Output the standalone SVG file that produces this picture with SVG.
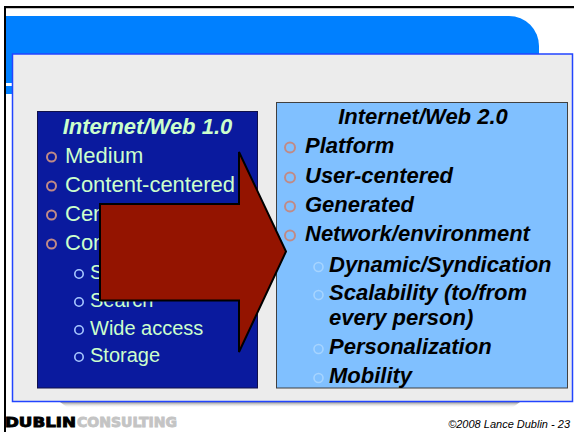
<svg xmlns="http://www.w3.org/2000/svg" width="574" height="432" viewBox="0 0 574 432">
  <defs>
    <style>
      .t1 { font-family: "Liberation Sans", Arial, sans-serif; font-size: 22px; fill: #ccffcc; }
      .t1s { font-family: "Liberation Sans", Arial, sans-serif; font-size: 20px; fill: #ccffcc; }
      .t2 { font-family: "Liberation Sans", Arial, sans-serif; font-size: 22px; font-weight: bold; font-style: italic; fill: #000000; }
      .ttl1 { font-family: "Liberation Sans", Arial, sans-serif; font-size: 22px; font-weight: bold; font-style: italic; fill: #ccffcc; text-anchor: middle; }
      .b1 { fill: none; stroke: #c08a86; stroke-width: 2; }
      .b1s { fill: none; stroke: #a8c8ff; stroke-width: 1.6; }
      .b2s { fill: none; stroke: #a6d4ff; stroke-width: 1.6; }
    </style>
    <linearGradient id="shadowGrad" x1="0" y1="0" x2="0" y2="1">
      <stop offset="0" stop-color="#8c8c8c"/>
      <stop offset="1" stop-color="#ffffff" stop-opacity="0"/>
    </linearGradient>
  </defs>

  <rect x="0" y="0" width="574" height="432" fill="#ffffff"/>

  <!-- slide frame -->
  <g id="frame">
    <rect x="4" y="6" width="570" height="2" fill="#000000"/>
    <rect x="4" y="8" width="570" height="1" fill="#c8c8c8"/>
    <rect x="4" y="6" width="2" height="426" fill="#000000"/>
  </g>

  <!-- title banner -->
  <g id="header">
    <path d="M6 16 H509 A30 30 0 0 1 539 46 V60 H6 Z" fill="#0080ff"/>
    <rect x="6" y="60" width="8" height="23" fill="#0080ff"/>
    <rect x="6" y="86" width="8" height="8" fill="#0080ff"/>
  </g>

  <!-- content panel -->
  <g id="panel">
    <path d="M60 402 H520 L512 408 Q290 405 68 408 Z" fill="url(#shadowGrad)"/>
    <rect x="12.5" y="54" width="560" height="347.5" fill="#ececec" stroke="#2244ff" stroke-width="1.5"/>
  </g>

  <!-- Web 1.0 box -->
  <g id="web1">
    <rect x="37.5" y="111.5" width="220" height="276.5" fill="#0a1a9e" stroke="#10104a" stroke-width="1"/>
    <text class="ttl1" x="147.5" y="134">Internet/Web 1.0</text>
    <circle class="b1" cx="51.5" cy="157" r="4.5"/>
    <text class="t1" x="65" y="163">Medium</text>
    <circle class="b1" cx="51.5" cy="186" r="4.5"/>
    <text class="t1" x="65" y="192">Content-centered</text>
    <circle class="b1" cx="51.5" cy="215" r="4.5"/>
    <text class="t1" x="65" y="221">Cen</text>
    <circle class="b1" cx="51.5" cy="244" r="4.5"/>
    <text class="t1" x="65" y="250">Con</text>
    <circle class="b1s" cx="79" cy="274" r="4.2"/>
    <text class="t1s" x="90" y="279">S</text>
    <circle class="b1s" cx="79" cy="302" r="4.2"/>
    <text class="t1s" x="90" y="307">Search</text>
    <circle class="b1s" cx="79" cy="330" r="4.2"/>
    <text class="t1s" x="90" y="335">Wide access</text>
    <circle class="b1s" cx="79" cy="357" r="4.2"/>
    <text class="t1s" x="90" y="362">Storage</text>
  </g>

  <!-- Web 2.0 box -->
  <g id="web2">
    <rect x="276.5" y="102.5" width="291" height="285.5" fill="#80c0ff" stroke="#404040" stroke-width="1"/>
    <text class="t2" x="423" y="124" text-anchor="middle">Internet/Web 2.0</text>
    <circle class="b1" cx="290" cy="147.5" r="5"/>
    <text class="t2" x="305" y="153">Platform</text>
    <circle class="b1" cx="290" cy="177.5" r="5"/>
    <text class="t2" x="305" y="183">User-centered</text>
    <circle class="b1" cx="290" cy="206.5" r="5"/>
    <text class="t2" x="305" y="212">Generated</text>
    <circle class="b1" cx="290" cy="235.5" r="5"/>
    <text class="t2" x="305" y="241">Network/environment</text>
    <circle class="b2s" cx="318.5" cy="267" r="4.5"/>
    <text class="t2" x="329" y="272">Dynamic/Syndication</text>
    <circle class="b2s" cx="318.5" cy="295" r="4.5"/>
    <text class="t2" x="329" y="300">Scalability (to/from</text>
    <text class="t2" x="329" y="325">every person)</text>
    <circle class="b2s" cx="318.5" cy="349" r="4.5"/>
    <text class="t2" x="329" y="354">Personalization</text>
    <circle class="b2s" cx="318.5" cy="378" r="4.5"/>
    <text class="t2" x="329" y="383">Mobility</text>
  </g>

  <!-- block arrow from Web 1.0 to Web 2.0 -->
  <g id="connectors">
    <path d="M100 204 H239 V152 L286 251.5 L239 352 V300.5 H100 Z" fill="#941400" stroke="#000000" stroke-width="2" stroke-linejoin="miter"/>
  </g>

  <!-- footer -->
  <g id="footer">
    <text x="5" y="427" font-family="DejaVu Sans, sans-serif" font-weight="bold" font-size="14" fill="#000000" stroke="#000000" stroke-width="0.9" textLength="71" lengthAdjust="spacingAndGlyphs">DUBLIN</text>
    <text x="77" y="427" font-family="DejaVu Sans, sans-serif" font-weight="bold" font-size="14" fill="#c4c4c4" stroke="#c4c4c4" stroke-width="0.9" textLength="100" lengthAdjust="spacingAndGlyphs">CONSULTING</text>
    <text x="570" y="428" font-family="Liberation Sans, Arial, sans-serif" font-style="italic" font-size="11" fill="#000000" text-anchor="end">©2008 Lance Dublin - 23</text>
  </g>
</svg>
